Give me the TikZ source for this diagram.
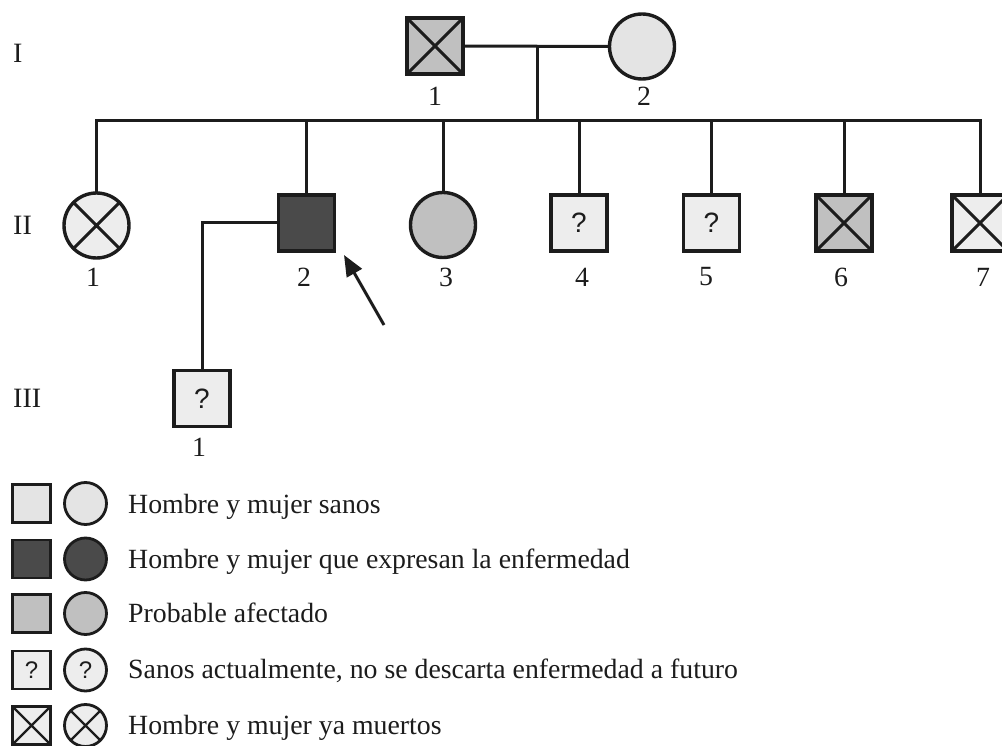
\documentclass[tikz,border=0pt]{standalone}
\usepackage{fontspec}
\setmainfont{Liberation Serif}
\newfontfamily\qfont{Liberation Sans}
\usetikzlibrary{arrows.meta}
\definecolor{ink}{HTML}{1C1C1C}
\definecolor{healthy}{HTML}{E4E4E4}
\definecolor{pale}{HTML}{EDEDED}
\definecolor{probable}{HTML}{C0C0C0}
\definecolor{affected}{HTML}{4A4A4A}
\tikzset{
  sq/.style={rectangle, draw=ink, line width=3.4pt, minimum size=56pt, inner sep=0pt, outer sep=0pt},
  ci/.style={circle, draw=ink, line width=3.4pt, minimum size=65pt, inner sep=0pt, outer sep=0pt},
  lsq/.style={rectangle, draw=ink, line width=2.8pt, minimum size=38pt, inner sep=0pt, outer sep=0pt},
  lci/.style={circle, draw=ink, line width=2.8pt, minimum size=42pt, inner sep=0pt, outer sep=0pt},
  num/.style={font=\fontsize{27.8}{30}\selectfont, inner sep=0pt, text=ink},
  gen/.style={font=\fontsize{28}{30}\selectfont, inner sep=0pt, anchor=west, text=ink},
  leg/.style={font=\fontsize{27.8}{30}\selectfont, inner sep=0pt, anchor=base west, text=ink},
  qm/.style={font=\qfont\fontsize{28}{28}\selectfont, text=ink},
  lqm/.style={font=\qfont\fontsize{24}{24}\selectfont, text=ink},
  link/.style={draw=ink, line width=3pt},
  cross/.style={draw=ink, line width=3pt},
}
\begin{document}
\begin{tikzpicture}[x=1pt,y=-1pt]
\useasboundingbox (0,0) rectangle (1002,746);
\clip (0,0) rectangle (1002,746);

% generation labels
\node[gen] (gI) at (13,53.5) {I};
\node[gen] (gII) at (13,225) {II};
\node[gen] (gIII) at (13,398) {III};

% generation I
\node[sq, fill=probable] (I1) at (435,46) {};
\node[ci, fill=healthy] (I2) at (642,46.5) {};
\node[num] (nI1) at (435,96) {1};
\node[num] (nI2) at (644,96) {2};

% generation II
\node[ci, fill=pale] (II1) at (96.5,225.5) {};
\node[sq, fill=affected] (II2) at (306.5,223) {};
\node[ci, fill=probable] (II3) at (443,225) {};
\node[sq, fill=pale, qm] (II4) at (579,223) {?};
\node[sq, fill=pale, qm] (II5) at (711.5,223) {?};
\node[sq, fill=probable] (II6) at (844,223) {};
\node[sq, fill=pale] (II7) at (980,223) {};
\node[num] (nII1) at (93,277) {1};
\node[num] (nII2) at (304,277) {2};
\node[num] (nII3) at (446,277) {3};
\node[num] (nII4) at (582,277) {4};
\node[num] (nII5) at (706,277) {5};
\node[num] (nII6) at (841,277) {6};
\node[num] (nII7) at (983,277) {7};

% generation III
\node[sq, fill=pale, qm] (III1) at (202,398.5) {?};
\node[num] (nIII1) at (199,447) {1};

% crosses
\foreach \n in {I1,II1,II6,II7}
  \draw[cross] (\n.north west) -- (\n.south east) (\n.north east) -- (\n.south west);

% connectors
\coordinate (mid) at (537,46);
\coordinate (sibL) at (96.5,121);
\coordinate (sibR) at (980,121);
\draw[link] (I1.east) -- (I2.west);
\draw[link] (mid) -- (mid |- sibL);
\draw[link, line cap=rect] (sibL) -- (sibR);
\foreach \n in {II1,II2,II3,II4,II5,II6,II7}
  \draw[link] (\n.north) -- (\n.north |- sibL);
\draw[link] (II2.west) -| (III1.north);

% proband arrow
\coordinate (arrTail) at (384,325);
\coordinate (arrHead) at (344,255);
\draw[link, -{Triangle[length=21pt,width=17pt]}] (arrTail) -- (arrHead);

% legend
\node[lsq, fill=healthy] (L1s) at (31.5,503.5) {};
\node[lci, fill=healthy] (L1c) at (85.5,503.5) {};
\node[leg] (L1t) at (128,513) {Hombre y mujer sanos};

\node[lsq, fill=affected] (L2s) at (31.5,559) {};
\node[lci, fill=affected] (L2c) at (85.5,559) {};
\node[leg] (L2t) at (128,568) {Hombre y mujer que expresan la enfermedad};

\node[lsq, fill=probable] (L3s) at (31.5,613.5) {};
\node[lci, fill=probable] (L3c) at (85.5,613.5) {};
\node[leg] (L3t) at (128,622.5) {Probable afectado};

\node[lsq, fill=pale, lqm] (L4s) at (31.5,670) {?};
\node[lci, fill=pale, lqm] (L4c) at (85.5,670) {?};
\node[leg] (L4t) at (128,678) {Sanos actualmente, no se descarta enfermedad a futuro};

\node[lsq, fill=pale] (L5s) at (31.5,725.5) {};
\node[lci, fill=pale] (L5c) at (85.5,725.5) {};
\node[leg] (L5t) at (128,734) {Hombre y mujer ya muertos};
\foreach \n in {L5s,L5c}
  \draw[cross, line width=2.2pt] (\n.north west) -- (\n.south east) (\n.north east) -- (\n.south west);
\end{tikzpicture}
\end{document}
